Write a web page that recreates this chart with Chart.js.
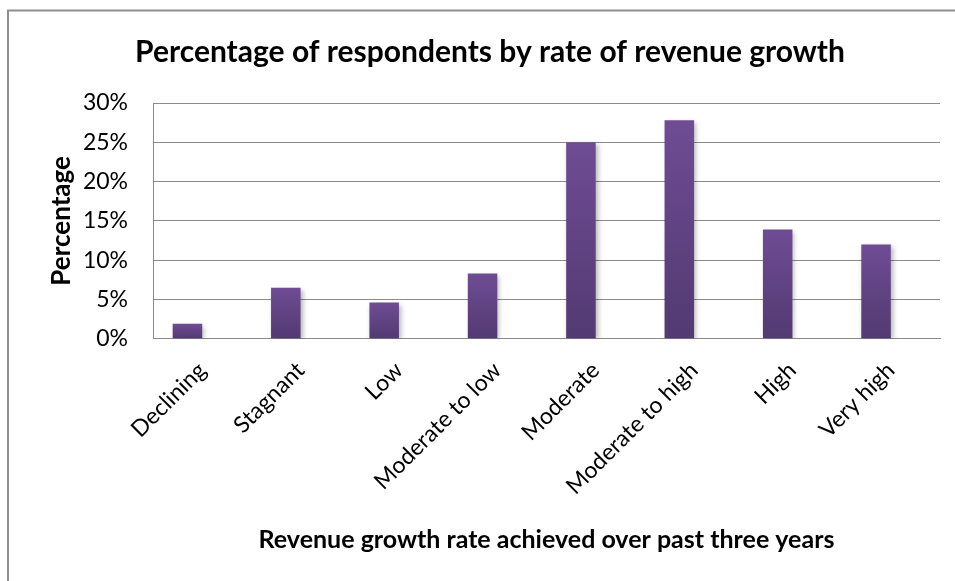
<!DOCTYPE html>
<html>
<head>
<meta charset="utf-8">
<script src="https://cdn.jsdelivr.net/npm/chart.js@4/dist/chart.umd.min.js"></script>
<style>
  html, body { margin: 0; padding: 0; background: #ffffff; }
  #wrap { width: 955px; height: 581px; position: relative; }
</style>
</head>
<body>
<div id="wrap"><canvas id="c" width="955" height="581"></canvas></div>
<script>
// Survey categories: revenue growth achieved over the past three years
const categories = ['Declining', 'Stagnant', 'Low', 'Moderate to low', 'Moderate', 'Moderate to high', 'High', 'Very high'];
// Share of respondents in each category, in percent
const respondentShare = [1.9, 6.5, 4.6, 8.3, 25.0, 27.8, 13.9, 12.0];
// Second series of the clustered layout, left without values
const emptySeries = [null, null, null, null, null, null, null, null];
// Value axis ticks (percent)
const yTicks = [0, 5, 10, 15, 20, 25, 30];

const FONT = 'Lato, "Liberation Sans", sans-serif';

// Vertical purple gradient per bar: lighter at the top, darker at the base
function barGradient(ctx) {
  const chart = ctx.chart;
  const yScale = chart.scales.y;
  if (!yScale || !ctx.parsed || ctx.parsed.y == null) return '#62457f';
  const top = yScale.getPixelForValue(ctx.parsed.y);
  const base = yScale.getPixelForValue(0);
  if (!isFinite(top) || !isFinite(base) || top === base) return '#62457f';
  const g = chart.ctx.createLinearGradient(0, top, 0, base);
  g.addColorStop(0, '#6f4c94');
  g.addColorStop(1, '#523a72');
  return g;
}

// Soft drop shadow behind the bars
const barShadow = {
  id: 'barShadow',
  beforeDatasetDraw(chart) {
    const c = chart.ctx;
    c.save();
    c.shadowColor = 'rgba(0,0,0,0.30)';
    c.shadowBlur = 5;
    c.shadowOffsetX = 2;
    c.shadowOffsetY = 2;
  },
  afterDatasetDraw(chart) {
    chart.ctx.restore();
  }
};

// Frame lines along the top and left edge of the chart
const frame = {
  id: 'frame',
  beforeDraw(chart) {
    const c = chart.ctx;
    c.save();
    c.fillStyle = '#ffffff';
    c.fillRect(0, 0, chart.width, chart.height);
    c.strokeStyle = '#8e8e8e';
    c.lineWidth = 2;
    c.beginPath();
    c.moveTo(8, 581);
    c.lineTo(8, 10.5);
    c.lineTo(955, 10.5);
    c.stroke();
    c.restore();
  }
};

new Chart(document.getElementById('c'), {
  type: 'bar',
  data: {
    labels: categories,
    datasets: [
      {
        label: 'Percentage',
        data: respondentShare,
        backgroundColor: barGradient,
        borderWidth: 0,
        barPercentage: 1.0,
        categoryPercentage: 0.6
      },
      {
        label: '',
        data: emptySeries,
        backgroundColor: '#000000',
        barPercentage: 1.0,
        categoryPercentage: 0.6
      }
    ]
  },
  plugins: [frame, barShadow],
  options: {
    responsive: false,
    animation: false,
    devicePixelRatio: 1,
    layout: { autoPadding: false, padding: { left: 40, right: 15, top: 10, bottom: 26 } },
    plugins: {
      legend: { display: false },
      tooltip: { enabled: false },
      title: {
        display: true,
        text: 'Percentage of respondents by rate of revenue growth',
        color: '#000000',
        font: { family: FONT, size: 30, weight: 'bold' },
        padding: { top: 24, bottom: 33 }
      }
    },
    scales: {
      x: {
        grid: { display: false, drawTicks: false },
        border: { display: true, color: '#8a8a8a', width: 1 },
        ticks: {
          color: '#000000',
          font: { family: FONT, size: 23 },
          minRotation: 45,
          maxRotation: 45,
          autoSkip: false,
          padding: 18
        },
        title: {
          display: true,
          text: 'Revenue growth rate achieved over past three years',
          color: '#000000',
          font: { family: FONT, size: 25, weight: 'bold' },
          padding: { top: 7, bottom: 0 }
        }
      },
      y: {
        min: 0,
        max: 30,
        afterBuildTicks(scale) {
          scale.ticks = yTicks.map(v => ({ value: v }));
        },
        // axis band: title + labels + gap to the plot edge
        afterFit(scale) {
          scale.width = 113;
        },
        grid: { color: '#8a8a8a', lineWidth: 1, drawTicks: false },
        border: { display: true, color: '#8a8a8a', width: 1 },
        ticks: {
          color: '#000000',
          font: { family: FONT, size: 23 },
          padding: 25,
          callback: v => v + '%'
        },
        title: {
          display: true,
          text: 'Percentage',
          color: '#000000',
          font: { family: FONT, size: 26, weight: 'bold' },
          padding: { top: 6, bottom: 6 }
        }
      }
    }
  }
});
</script>
</body>
</html>
